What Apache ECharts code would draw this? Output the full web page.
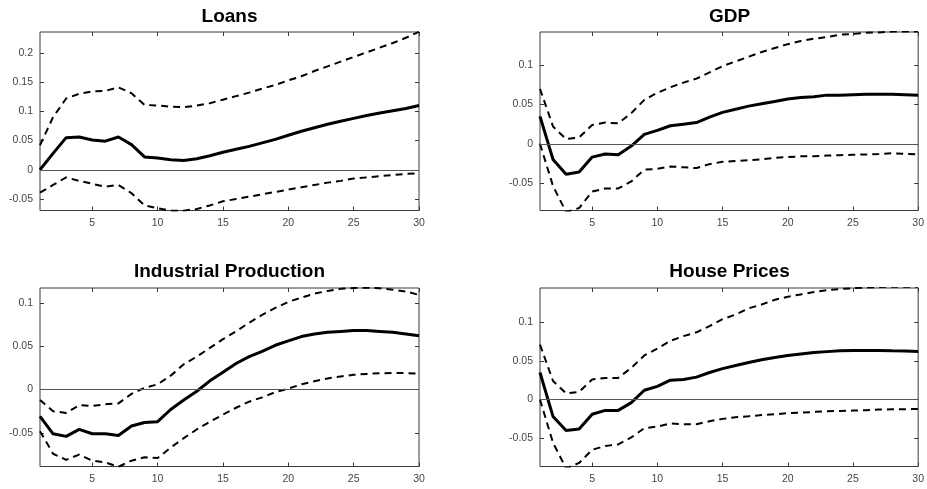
<!DOCTYPE html>
<html>
<head>
<meta charset="utf-8">
<script src="https://cdn.jsdelivr.net/npm/echarts@6/dist/echarts.min.js"></script>
<style>
  html, body { margin: 0; padding: 0; background: #fff; }
  #chart { width: 927px; height: 489px; }
</style>
</head>
<body>
<div id="chart"></div>
<script>
// horizon 1..30
var periods = [];
for (var p = 1; p <= 30; p++) periods.push(p);

var titles = ['Loans', 'GDP', 'Industrial Production', 'House Prices'];

// Loans
var loansMid = [0, 0.028, 0.055, 0.056, 0.051, 0.049, 0.056, 0.043, 0.022, 0.020, 0.017, 0.016, 0.019, 0.024, 0.030,
  0.035, 0.040, 0.046, 0.052, 0.059, 0.066, 0.072, 0.078, 0.083, 0.088, 0.093, 0.097, 0.101, 0.105, 0.110];
var loansUp = [0.042, 0.090, 0.122, 0.130, 0.134, 0.135, 0.141, 0.131, 0.111, 0.110, 0.108, 0.107, 0.110, 0.114, 0.120,
  0.126, 0.132, 0.139, 0.145, 0.153, 0.160, 0.169, 0.177, 0.185, 0.193, 0.201, 0.209, 0.217, 0.226, 0.236];
var loansLo = [-0.039, -0.026, -0.013, -0.019, -0.024, -0.029, -0.026, -0.040, -0.061, -0.066, -0.070, -0.070, -0.067, -0.061, -0.054,
  -0.050, -0.046, -0.042, -0.038, -0.034, -0.030, -0.026, -0.022, -0.019, -0.015, -0.013, -0.011, -0.009, -0.007, -0.006];

// GDP
var gdpMid = [0.035, -0.020, -0.039, -0.036, -0.017, -0.013, -0.014, -0.003, 0.012, 0.017, 0.023, 0.025, 0.027, 0.034, 0.040,
  0.044, 0.048, 0.051, 0.054, 0.057, 0.059, 0.060, 0.062, 0.062, 0.0625, 0.063, 0.063, 0.063, 0.0625, 0.062];
var gdpUp = [0.070, 0.022, 0.006, 0.008, 0.024, 0.027, 0.026, 0.039, 0.056, 0.065, 0.072, 0.078, 0.083, 0.091, 0.099,
  0.105, 0.111, 0.117, 0.122, 0.127, 0.131, 0.134, 0.136, 0.139, 0.140, 0.1415, 0.142, 0.143, 0.143, 0.143];
var gdpLo = [0.0, -0.054, -0.087, -0.082, -0.061, -0.057, -0.057, -0.048, -0.033, -0.032, -0.029, -0.030, -0.031, -0.026, -0.023,
  -0.022, -0.021, -0.020, -0.018, -0.017, -0.016, -0.016, -0.015, -0.0145, -0.014, -0.0136, -0.013, -0.012, -0.013, -0.0136];

// Industrial Production
var ipMid = [-0.031, -0.051, -0.054, -0.046, -0.051, -0.051, -0.053, -0.042, -0.038, -0.037, -0.023, -0.012, -0.002, 0.010, 0.020,
  0.030, 0.038, 0.044, 0.051, 0.056, 0.061, 0.064, 0.066, 0.067, 0.068, 0.068, 0.067, 0.066, 0.064, 0.062];
var ipUp = [-0.012, -0.025, -0.027, -0.018, -0.019, -0.017, -0.016, -0.005, 0.002, 0.006, 0.016, 0.029, 0.038, 0.048, 0.058,
  0.067, 0.077, 0.086, 0.094, 0.101, 0.106, 0.1105, 0.1136, 0.116, 0.117, 0.1175, 0.1167, 0.115, 0.113, 0.109];
var ipLo = [-0.048, -0.074, -0.081, -0.075, -0.082, -0.084, -0.089, -0.082, -0.078, -0.079, -0.067, -0.056, -0.046, -0.037, -0.029,
  -0.021, -0.014, -0.009, -0.003, 0.001, 0.006, 0.0096, 0.0127, 0.015, 0.017, 0.018, 0.0188, 0.019, 0.019, 0.0184];

// House Prices
var hpMid = [0.035, -0.022, -0.040, -0.038, -0.019, -0.014, -0.014, -0.004, 0.012, 0.017, 0.025, 0.026, 0.029, 0.035, 0.040,
  0.044, 0.048, 0.0515, 0.0545, 0.057, 0.059, 0.061, 0.062, 0.063, 0.0636, 0.0636, 0.0636, 0.063, 0.0628, 0.062];
var hpUp = [0.071, 0.024, 0.008, 0.010, 0.026, 0.028, 0.028, 0.041, 0.057, 0.066, 0.076, 0.082, 0.087, 0.095, 0.104,
  0.110, 0.118, 0.123, 0.129, 0.133, 0.136, 0.139, 0.1415, 0.143, 0.144, 0.145, 0.1455, 0.146, 0.146, 0.146];
var hpLo = [0.0, -0.056, -0.089, -0.082, -0.065, -0.060, -0.058, -0.049, -0.037, -0.035, -0.031, -0.032, -0.032, -0.028, -0.025,
  -0.023, -0.0216, -0.020, -0.019, -0.0177, -0.0169, -0.016, -0.015, -0.0147, -0.0143, -0.0139, -0.013, -0.0126, -0.0126, -0.0121];

// axis limits (tight) and tick values
var yMins = [-0.0697, -0.0851, -0.0887, -0.0866];
var yMaxs = [0.2358, 0.1425, 0.117, 0.1443];
var yTicks = [
  [-0.05, 0, 0.05, 0.1, 0.15, 0.2],
  [-0.05, 0, 0.05, 0.1],
  [-0.05, 0, 0.05, 0.1],
  [-0.05, 0, 0.05, 0.1]
];
var xTicks = [5, 10, 15, 20, 25, 30];

var mids = [loansMid, gdpMid, ipMid, hpMid];
var ups = [loansUp, gdpUp, ipUp, hpUp];
var los = [loansLo, gdpLo, ipLo, hpLo];

// panel placement
var lefts = [40, 540, 40, 540];
var tops = [32, 32, 288, 288];
var W = 379, H = 178.5;
var titleY = [17, 17, 272, 272];

function pairs(arr) {
  return periods.map(function (x, i) { return [x, arr[i]]; });
}

function fmtY(v) {
  return String(+v.toFixed(2));
}

var FONT = '"Liberation Sans", Arial, Helvetica, sans-serif';
var BOX = '#3a3a3a';
var grids = [], xAxes = [], yAxes = [], series = [], graphics = [];

function tickOpt(vals) {
  return { show: true, inside: true, length: 4, customValues: vals, lineStyle: { color: BOX } };
}

for (var k = 0; k < 4; k++) {
  grids.push({
    left: lefts[k], top: tops[k], width: W, height: H,
    show: true, borderColor: BOX, borderWidth: 1, backgroundColor: '#fff'
  });
  // bottom x axis with labels
  xAxes.push({
    type: 'value', gridIndex: k, min: 1, max: 30, position: 'bottom',
    axisLine: { show: false, onZero: false }, splitLine: { show: false },
    axisTick: tickOpt(xTicks),
    axisLabel: { show: true, margin: 7, customValues: xTicks, color: '#444', fontSize: 10.5, fontFamily: FONT }
  });
  // top x axis, ticks only
  xAxes.push({
    type: 'value', gridIndex: k, min: 1, max: 30, position: 'top',
    axisLine: { show: false, onZero: false }, splitLine: { show: false },
    axisTick: tickOpt(xTicks),
    axisLabel: { show: false }
  });
  yAxes.push({
    type: 'value', gridIndex: k, min: yMins[k], max: yMaxs[k], position: 'left',
    axisLine: { show: false, onZero: false }, splitLine: { show: false },
    axisTick: tickOpt(yTicks[k]),
    axisLabel: { show: true, margin: 7, customValues: yTicks[k], formatter: fmtY, color: '#444', fontSize: 10.5, fontFamily: FONT }
  });
  yAxes.push({
    type: 'value', gridIndex: k, min: yMins[k], max: yMaxs[k], position: 'right',
    axisLine: { show: false, onZero: false }, splitLine: { show: false },
    axisTick: tickOpt(yTicks[k]),
    axisLabel: { show: false }
  });

  var xi = k * 2, yi = k * 2;
  series.push({
    type: 'line', xAxisIndex: xi, yAxisIndex: yi, data: pairs(ups[k]),
    showSymbol: false, silent: true, clip: true,
    lineStyle: { color: '#000', width: 2, type: [7, 5] }
  });
  series.push({
    type: 'line', xAxisIndex: xi, yAxisIndex: yi, data: pairs(los[k]),
    showSymbol: false, silent: true, clip: true,
    lineStyle: { color: '#000', width: 2, type: [7, 5] }
  });
  series.push({
    type: 'line', xAxisIndex: xi, yAxisIndex: yi, data: pairs(mids[k]),
    showSymbol: false, silent: true, clip: true, z: 3,
    lineStyle: { color: '#000', width: 3 },
    markLine: {
      silent: true, symbol: 'none', label: { show: false },
      lineStyle: { color: '#555', width: 1, type: 'solid' },
      data: [{ yAxis: 0 }]
    }
  });

  graphics.push({
    type: 'text', x: lefts[k] + W / 2, y: titleY[k],
    style: {
      text: titles[k], x: 0, y: 0, textAlign: 'center', textVerticalAlign: 'middle',
      font: 'bold 19px ' + FONT, fill: '#000'
    }
  });
}

var chart = echarts.init(document.getElementById('chart'), null, { renderer: 'canvas' });
chart.setOption({
  animation: false,
  backgroundColor: '#fff',
  grid: grids,
  xAxis: xAxes,
  yAxis: yAxes,
  series: series,
  graphic: graphics
});
</script>
</body>
</html>
